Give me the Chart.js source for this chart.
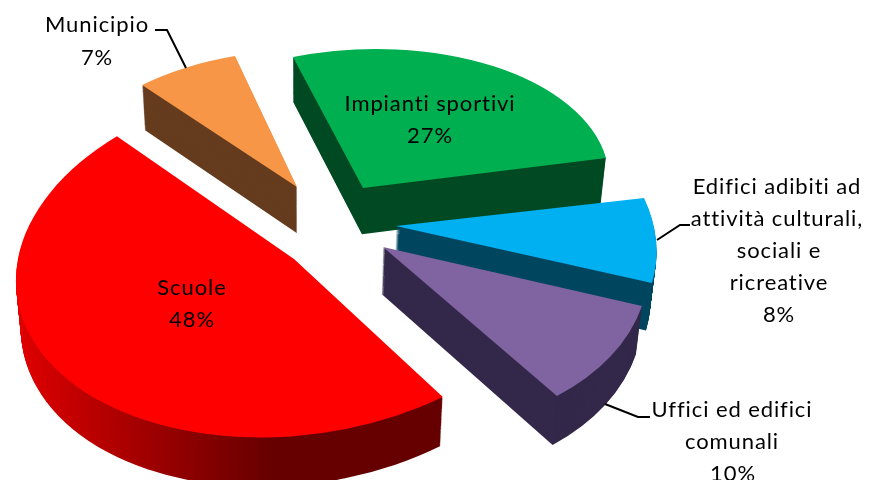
<!DOCTYPE html>
<html><head><meta charset="utf-8">
<style>html,body{margin:0;padding:0;background:#fff;overflow:hidden}canvas{display:block}</style>
<script src="https://cdn.jsdelivr.net/npm/chart.js@4"></script>
</head><body><canvas id="c" width="870" height="480"></canvas>
<script>
const categories = ["Impianti sportivi", "Edifici adibiti ad attività culturali, sociali e ricreative", "Uffici ed edifici comunali", "Scuole", "Municipio"];
const values = [27, 8, 10, 48, 7];
const topColors = ["#00B050", "#00B0F0", "#8064A2", "#FF0000", "#F79646"];
const sideColors = ["#004A23", "#00465F", "#33284A", "#660000", "#663C1E"];
// slice displacement from the pie centre (explosion), and per-slice perspective matrix
const explodeShift = [[28,-37],[61,1],[48,22],[-41,34],[-38,-38]];
const perspective = [[0.9648,-0.0663,-0.0061,0.8657],[1.0164,0.1727,0.0283,1.0659],[1.0405,0.1114,0.0235,1.1332],[1.087,-0.14,-0.028,1.11],[0.9402,-0.1055,0.0231,0.8498]];
const drawOrder = [4, 0, 1, 2, 3];
const squash = 0.63, layers = 46;
const labelLines = [
 {t:"Impianti sportivi",x:430,y:104},{t:"27%",x:430,y:136},
 {t:"Edifici adibiti ad",x:777,y:187},{t:"attività culturali,",x:777,y:219},{t:"sociali e",x:779,y:251},{t:"ricreative",x:779,y:283},{t:"8%",x:779,y:315},
 {t:"Uffici ed edifici",x:732,y:410},{t:"comunali",x:732,y:442},{t:"10%",x:733,y:474},
 {t:"Scuole",x:192,y:288},{t:"48%",x:192,y:320},
 {t:"Municipio",x:97,y:25},{t:"7%",x:97,y:58}];
const leaders = [[[155,30],[167,30],[186,68]],[[657,240],[680,225],[690,225]],[[605,404],[638,417],[650,417]]];

function placeSlice(ctx, arc, i, t){
  // lower layers of the extrusion: shrink in x towards the vanishing line, push down in y
  ctx.transform(1-0.017*t, 0, 0, 1+0.0127*t, 300*0.017*t, 43.9*t);
  const m = perspective[i], s = explodeShift[i];
  ctx.translate(arc.x+s[0], arc.y+s[1]);
  ctx.transform(m[0], m[2], m[1], m[3], 0, 0);
  ctx.scale(1, squash);
  ctx.translate(-arc.x, -arc.y);
}
const pie3d = {
  id:'pie3d',
  beforeDatasetDraw(chart,args){
    const ctx=chart.ctx, arcs=args.meta.data;
    for(const i of drawOrder){
      const arc=arcs[i], opt=arc.options, orig=opt.backgroundColor;
      for(let d=layers;d>=0;d--){
        ctx.save();
        placeSlice(ctx,arc,i,d/layers);
        if(d===0) opt.backgroundColor=orig;
        else if(i===3){
          const g=ctx.createLinearGradient(arc.x-250,0,arc.x,0);
          g.addColorStop(0,"#E00000");g.addColorStop(1,"#660000");
          opt.backgroundColor=g;
        } else opt.backgroundColor=sideColors[i];
        arc.draw(ctx);
        ctx.restore();
      }
      opt.backgroundColor=orig;
    }
    return false;
  },
  afterDraw(chart){
    const ctx=chart.ctx;
    ctx.save();
    ctx.strokeStyle="#000";ctx.lineWidth=2;
    for(const l of leaders){ctx.beginPath();l.forEach((p,k)=>k?ctx.lineTo(p[0],p[1]):ctx.moveTo(p[0],p[1]));ctx.stroke();}
    ctx.fillStyle="#000";ctx.font="22px Lato";ctx.textAlign="center";ctx.textBaseline="middle";
    ctx.letterSpacing="0.9px";
    for(const l of labelLines)ctx.fillText(l.t,l.x,l.y);
    ctx.restore();
  }
};
new Chart(document.getElementById('c'),{
  type:'pie',
  data:{labels:categories,datasets:[{data:values,backgroundColor:topColors,borderWidth:0,clip:false}]},
  options:{responsive:false,animation:false,rotation:-19,radius:255,
    layout:{padding:{right:200,bottom:30}},
    plugins:{legend:{display:false},tooltip:{enabled:false}}},
  plugins:[pie3d]
});
</script></body></html>
